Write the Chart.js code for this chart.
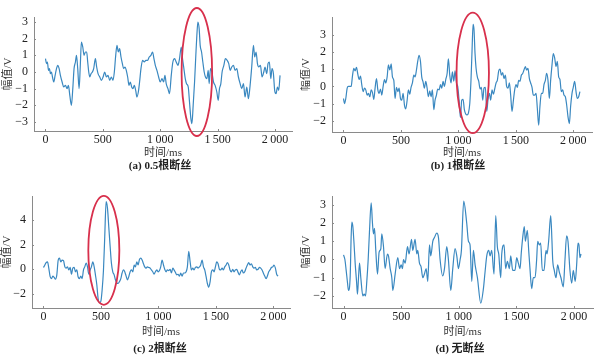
<!DOCTYPE html>
<html><head><meta charset="utf-8">
<script src="https://cdn.jsdelivr.net/npm/chart.js@4.4.1/dist/chart.umd.min.js"></script>
<style>
html,body{margin:0;padding:0;background:#fff;width:600px;height:355px;overflow:hidden;position:relative}
canvas{position:absolute}
.cap{position:absolute;font:bold 11px "Liberation Serif","Noto Sans CJK SC";color:#222;transform:translate(-50%,-50%);white-space:nowrap}
</style></head><body>
<canvas id="ca" width="300" height="177" style="left:0;top:0"></canvas>
<canvas id="cb" width="300" height="177" style="left:300px;top:0"></canvas>
<canvas id="cc" width="300" height="178" style="left:0;top:177px"></canvas>
<canvas id="cd" width="300" height="178" style="left:300px;top:177px"></canvas>
<div class="cap" style="left:160px;top:164px">(a) 0.5根断丝</div>
<div class="cap" style="left:458px;top:164px">(b) 1根断丝</div>
<div class="cap" style="left:160px;top:347px">(c) 2根断丝</div>
<div class="cap" style="left:460px;top:347px">(d) 无断丝</div>
<script>
// x tick values and labels (ms)
const xTickValues = [0, 500, 1000, 1500, 2000];
const xTickLabels = ['0', '500', '1\u2009000', '1\u2009500', '2\u2009000'];
// y tick values per panel (V)
const yTicksA = [-3, -2, -1, 0, 1, 2, 3];
const yTicksB = [-2, -1, 0, 1, 2, 3];
const yTicksC = [-2, 0, 2, 4];
const yTicksD = [-2, -1, 0, 1, 2, 3];
// highlighted regions: [centre ms, centre V, half-width ms, half-height V]
const ellipseA = [1319, 0.0, 133, 3.84];
const ellipseB = [1125, 0.78, 141, 3.49];
const ellipseC = [525, 1.54, 135, 4.42];
// signals: [time ms, amplitude V]
const sigA = [[0,0.8],[9,0.5],[17,0.6],[26,0.1],[35,0.2],[43,-0.1],[52,0.0],[61,-0.3],[72,-0.6],[84,-0.2],[96,0.2],[107,0.4],[119,0.2],[130,-0.2],[145,-0.6],[159,-0.9],[174,-0.8],[188,-1.0],[200,-0.8],[212,-1.4],[226,-2.0],[238,-1.0],[249,0.2],[261,0.6],[270,1.0],[281,0.2],[293,-1.0],[304,0.5],[313,1.8],[325,1.5],[336,1.0],[348,1.2],[359,1.2],[368,0.6],[377,0.0],[386,-0.3],[397,-0.1],[409,0.0],[420,0.2],[435,0.8],[446,0.3],[458,-0.1],[473,-0.3],[487,-0.5],[502,-0.3],[516,0.0],[531,-0.3],[545,-0.2],[560,-0.5],[574,-0.3],[588,-0.5],[600,0.0],[612,1.0],[623,1.6],[635,1.2],[646,1.4],[658,0.9],[670,0.5],[681,0.2],[693,0.3],[704,0.1],[716,-0.3],[728,-0.8],[739,-0.6],[751,-0.9],[762,-1.0],[774,-0.8],[786,-1.1],[797,-1.5],[809,-1.2],[820,-0.6],[832,0.2],[846,0.7],[861,0.6],[875,0.7],[890,0.7],[904,0.9],[919,1.0],[933,1.2],[945,0.8],[957,0.4],[971,0.1],[986,-0.3],[1000,-0.6],[1015,-0.4],[1029,-0.6],[1041,-0.2],[1052,-0.7],[1067,-1.0],[1081,-1.3],[1096,-0.2],[1110,0.6],[1125,0.8],[1139,0.6],[1154,0.4],[1168,0.8],[1183,1.5],[1194,0.8],[1206,0.2],[1218,-0.4],[1229,-0.7],[1244,-0.9],[1255,-1.8],[1267,-2.8],[1276,-3.1],[1287,-2.0],[1299,-0.6],[1310,1.0],[1319,2.2],[1328,3.0],[1339,2.6],[1348,1.6],[1360,1.2],[1371,0.6],[1383,0.0],[1394,-0.3],[1406,-0.4],[1418,0.1],[1426,-0.7],[1438,0.2],[1450,0.0],[1464,-0.6],[1478,-0.8],[1493,-1.2],[1505,-1.7],[1516,-1.0],[1528,-0.7],[1539,0.0],[1554,0.4],[1568,0.8],[1583,0.7],[1597,0.5],[1609,0.1],[1623,0.3],[1638,0.4],[1652,0.1],[1667,0.2],[1681,-0.3],[1696,-0.7],[1710,-1.0],[1725,-0.7],[1739,-1.5],[1754,-0.9],[1768,-1.6],[1783,-0.8],[1797,0.3],[1812,1.6],[1823,0.9],[1835,1.2],[1847,0.5],[1858,0.3],[1873,0.4],[1887,-0.3],[1902,0.0],[1913,0.3],[1928,-0.1],[1939,0.5],[1951,0.6],[1963,-0.4],[1974,0.2],[1986,-0.1],[1997,-1.1],[2009,-1.3],[2021,-0.9],[2032,-1.1],[2044,-0.2]];
const sigB = [[0,-0.7],[9,-1.0],[20,-0.7],[32,-0.1],[43,0.0],[55,0.0],[67,0.0],[78,0.6],[90,1.05],[101,0.9],[113,1.1],[125,0.7],[136,0.4],[148,0.6],[159,0.1],[171,-0.3],[183,-0.1],[194,-0.2],[206,-0.5],[217,-0.4],[229,-0.6],[241,-0.2],[252,-0.35],[264,-0.75],[275,-0.1],[287,0.45],[299,-0.2],[310,-0.4],[322,-0.15],[333,-0.5],[345,0.0],[357,0.4],[368,0.2],[380,0.55],[391,1.25],[403,0.95],[415,1.3],[426,0.55],[438,0.35],[449,-0.7],[461,-0.05],[473,-0.3],[484,-0.1],[496,-0.7],[507,-0.8],[519,-0.4],[531,-1.1],[542,-1.3],[554,-0.8],[565,-0.2],[577,-0.45],[588,-0.05],[600,0.2],[612,0.65],[623,0.55],[635,0.95],[646,1.45],[658,1.8],[670,1.45],[681,0.55],[693,0.25],[704,-0.1],[716,0.3],[728,-0.1],[739,-0.6],[751,-0.25],[762,-0.6],[774,-0.2],[786,-1.35],[797,-0.8],[809,-0.5],[820,-0.15],[832,-0.2],[844,0.1],[855,-0.1],[867,0.3],[878,0.0],[890,0.4],[902,0.75],[913,1.6],[925,0.65],[936,0.2],[948,0.85],[960,0.3],[971,0.9],[983,0.2],[994,0.0],[1006,-0.8],[1018,-1.8],[1029,-0.8],[1041,-0.75],[1052,-1.35],[1064,-1.6],[1076,-1.65],[1087,-1.55],[1099,-1.0],[1110,0.4],[1119,2.1],[1128,3.6],[1136,3.3],[1145,1.9],[1154,1.05],[1165,0.55],[1177,0.3],[1189,-0.15],[1200,-0.05],[1212,-0.8],[1223,-0.1],[1235,-0.05],[1247,-1.45],[1258,-0.75],[1270,-0.4],[1281,-0.8],[1293,-0.2],[1305,-0.45],[1316,-0.15],[1328,0.2],[1339,0.35],[1351,0.9],[1363,1.0],[1374,0.65],[1386,0.8],[1397,0.45],[1409,0.65],[1420,0.0],[1432,-0.1],[1444,0.2],[1455,-0.5],[1467,-1.45],[1479,-0.8],[1490,-0.2],[1502,0.1],[1513,-0.05],[1525,0.35],[1536,0.3],[1548,0.65],[1560,0.75],[1571,0.95],[1583,1.15],[1594,0.95],[1606,1.05],[1618,0.45],[1629,0.2],[1641,-0.05],[1652,-0.5],[1664,-0.5],[1676,-0.4],[1687,-1.25],[1699,-2.25],[1710,-1.15],[1722,-0.4],[1734,-0.4],[1745,0.1],[1757,0.35],[1768,0.75],[1780,0.35],[1792,-0.7],[1803,0.35],[1815,1.25],[1826,1.9],[1838,1.65],[1850,1.15],[1861,1.45],[1873,0.55],[1884,0.4],[1896,-0.3],[1908,-0.2],[1919,-0.5],[1931,-0.6],[1942,-1.05],[1954,-1.75],[1966,-2.15],[1977,-1.15],[1989,-0.4],[2000,-0.05],[2012,0.3],[2024,-0.3],[2035,-0.7],[2047,-0.6],[2058,-0.3]];
const sigC = [[0,0.15],[12,0.35],[23,0.55],[35,0.6],[46,0.1],[58,-0.6],[70,-0.75],[81,-0.55],[93,-0.65],[104,-0.8],[116,-0.45],[128,0.75],[139,0.9],[151,0.6],[162,0.75],[174,0.7],[186,0.2],[197,0.1],[209,0.2],[220,-0.05],[232,0.15],[244,-0.4],[255,0.1],[267,0.15],[278,-0.2],[290,-0.05],[301,-0.6],[313,-0.75],[325,-0.55],[336,-0.75],[348,-0.05],[359,0.2],[371,0.5],[383,0.2],[394,-0.4],[406,-0.05],[417,0.2],[429,0.6],[441,0.2],[452,-0.45],[464,-1.25],[475,-2.35],[487,-2.7],[499,-2.6],[510,-1.7],[522,-0.05],[533,2.65],[545,5.5],[557,4.95],[568,3.45],[580,1.85],[591,0.5],[603,-0.2],[615,-0.45],[626,-0.85],[638,-1.1],[649,-1.15],[661,-1.0],[673,-0.75],[684,-0.3],[696,-0.05],[707,-0.2],[719,-0.55],[731,-0.85],[742,-0.6],[754,-0.2],[765,-0.05],[777,-0.2],[789,0.35],[800,0.2],[812,0.6],[823,0.35],[835,0.8],[847,0.9],[858,0.75],[870,0.45],[881,0.2],[893,0.1],[904,0.2],[916,0.15],[928,0.1],[939,-0.05],[951,-0.2],[962,-0.4],[974,-0.2],[986,-0.05],[997,-0.2],[1009,-0.1],[1020,0.2],[1032,0.75],[1044,0.35],[1055,0.0],[1067,-0.2],[1078,-0.05],[1090,-0.1],[1102,0.0],[1113,-0.3],[1125,0.1],[1136,-0.05],[1148,-0.25],[1160,-0.45],[1171,-0.4],[1183,-0.55],[1194,-0.3],[1206,-0.55],[1218,-0.3],[1229,-0.3],[1241,-0.2],[1252,0.2],[1264,1.45],[1276,0.6],[1287,-0.05],[1299,0.1],[1310,-0.05],[1322,0.15],[1334,0.2],[1345,0.1],[1357,0.2],[1368,0.35],[1380,0.75],[1392,0.2],[1403,-0.05],[1415,-0.6],[1426,-1.15],[1438,-1.45],[1450,-1.0],[1461,-0.2],[1473,-0.05],[1484,-0.2],[1496,0.2],[1507,0.6],[1519,0.45],[1531,0.0],[1542,-0.05],[1554,0.1],[1565,-0.05],[1577,0.2],[1589,0.35],[1600,0.55],[1612,0.35],[1623,-0.05],[1635,-0.2],[1647,0.0],[1658,-0.2],[1670,-0.05],[1681,0.0],[1693,-0.25],[1705,-0.45],[1716,-0.2],[1728,-0.05],[1739,-0.3],[1751,-0.2],[1763,0.1],[1774,0.35],[1786,0.55],[1797,0.35],[1809,0.45],[1821,0.2],[1832,0.1],[1844,0.15],[1855,-0.05],[1867,0.0],[1879,0.15],[1890,0.1],[1902,-0.05],[1913,-0.3],[1925,-0.55],[1937,-0.75],[1948,-0.55],[1960,-0.2],[1971,-0.05],[1983,0.15],[1995,0.2],[2006,0.35],[2018,0.1],[2029,-0.4],[2041,-0.55]];
const sigD = [[0,0.25],[12,0.0],[23,-0.6],[35,-1.3],[43,-1.7],[58,-0.9],[66,1.2],[72,2.05],[81,1.8],[90,1.0],[101,-0.2],[113,-1.2],[121,-1.9],[130,-1.0],[139,-0.2],[150,-1.0],[168,-2.0],[179,-1.9],[191,-2.0],[202,-1.2],[214,0.0],[225,1.5],[240,3.1],[251,2.0],[260,1.4],[269,1.7],[280,0.5],[295,-0.8],[309,0.4],[324,0.6],[332,1.4],[347,0.7],[361,-0.5],[381,0.3],[390,0.2],[405,-0.5],[419,-1.0],[428,-1.7],[448,-0.8],[471,0.1],[486,-0.5],[500,-0.3],[512,-0.5],[520,0.0],[535,-0.2],[555,0.7],[569,0.3],[590,1.1],[601,0.5],[621,1.1],[636,0.3],[644,0.5],[659,-0.2],[673,-0.4],[688,-1.0],[702,-0.8],[717,-0.5],[731,-1.2],[746,0.8],[757,0.2],[775,1.0],[789,1.2],[809,1.45],[824,1.2],[838,0.0],[861,-0.9],[876,-0.5],[896,0.7],[910,0.0],[931,-1.7],[948,-0.5],[968,0.6],[983,0.2],[997,-0.5],[1012,0.0],[1023,0.5],[1043,3.2],[1069,2.0],[1084,1.0],[1098,0.8],[1113,-1.2],[1127,0.5],[1142,-0.3],[1162,-1.0],[1191,-2.4],[1214,-1.6],[1228,-0.7],[1243,0.2],[1260,0.5],[1272,0.2],[1286,0.5],[1306,-0.8],[1321,2.4],[1335,0.7],[1347,0.3],[1364,-1.0],[1373,0.3],[1393,0.8],[1407,-0.5],[1422,-0.1],[1439,-0.5],[1451,0.2],[1468,-0.6],[1488,-0.6],[1503,0.1],[1517,-0.2],[1532,-0.5],[1543,0.4],[1555,1.2],[1569,1.8],[1578,1.0],[1595,1.6],[1607,0.5],[1618,-0.5],[1633,-1.6],[1647,-1.0],[1662,-1.0],[1676,0.0],[1685,1.0],[1699,0.8],[1711,0.9],[1725,-0.6],[1740,-0.6],[1757,0.5],[1766,0.3],[1780,1.0],[1798,2.4],[1809,1.0],[1815,0.0],[1829,-0.6],[1844,-1.0],[1858,-0.3],[1873,-0.7],[1887,-1.0],[1907,-1.5],[1922,0.0],[1936,1.3],[1948,1.0],[1965,-0.6],[1980,-1.3],[1994,-0.6],[2011,-1.2],[2023,-0.3],[2035,0.9],[2043,0.8],[2052,0.1],[2061,0.3]];

const LINE = '#3a88c0', AXIS = '#8a8a8a', TXT = '#222';
const tickFont = {family: '"Liberation Serif", "DejaVu Serif", serif', size: 12};
const titleFont = {family: '"Liberation Serif", "Noto Sans CJK SC", serif', size: 11};

const ellipsePlugin = {
  id: 'ell',
  afterDatasetsDraw(chart, args, opts) {
    const e = opts.e; if (!e) return;
    const xs = chart.scales.x, ys = chart.scales.y, ctx = chart.ctx;
    const cx = xs.getPixelForValue(e[0]), cy = ys.getPixelForValue(e[1]);
    const rx = Math.abs(xs.getPixelForValue(e[0] + e[2]) - cx);
    const ry = Math.abs(ys.getPixelForValue(e[1] + e[3]) - cy);
    ctx.save(); ctx.strokeStyle = '#d8304c'; ctx.lineWidth = 1.8;
    ctx.beginPath(); ctx.ellipse(cx, cy, rx, ry, 0, 0, 2 * Math.PI); ctx.stroke(); ctx.restore();
  }
};
const tickPlugin = {
  id: 'inTicks',
  afterDraw(chart) {
    const ctx = chart.ctx, x = chart.scales.x, y = chart.scales.y;
    ctx.save(); ctx.strokeStyle = AXIS; ctx.lineWidth = 1; ctx.beginPath();
    x.ticks.forEach(t => { const p = Math.round(x.getPixelForValue(t.value)) + 0.5; ctx.moveTo(p, x.top); ctx.lineTo(p, x.top - 2); });
    y.ticks.forEach(t => { const p = Math.round(y.getPixelForValue(t.value)) + 0.5; ctx.moveTo(y.right, p); ctx.lineTo(y.right + 2, p); });
    ctx.stroke(); ctx.restore();
  }
};

function make(id, sig, yMin, yMax, yTicks, xMax, ell, pad, yW, xH, yTitlePad) {
  new Chart(document.getElementById(id), {
    type: 'line',
    data: { datasets: [{ data: sig.map(p => ({x: p[0], y: p[1]})), borderColor: LINE, borderWidth: 1.2,
      pointRadius: 0, fill: false, cubicInterpolationMode: 'monotone' }] },
    options: {
      responsive: false, animation: false, events: [],
      layout: { padding: pad },
      plugins: { legend: {display: false}, tooltip: {enabled: false}, ell: {e: ell} },
      scales: {
        x: { type: 'linear', min: -100, max: xMax,
          afterBuildTicks: s => { s.ticks = xTickValues.map(v => ({value: v})); },
          afterFit: s => { s.height = xH; },
          grid: {display: false, drawTicks: false},
          border: {display: true, color: AXIS, width: 1},
          ticks: { padding: 2, font: tickFont, color: TXT, autoSkip: false, maxRotation: 0,
            callback: v => xTickLabels[xTickValues.indexOf(v)] },
          title: { display: true, text: '时间/ms', padding: 0, font: titleFont, color: '#333' } },
        y: { min: yMin, max: yMax,
          afterBuildTicks: s => { s.ticks = yTicks.map(v => ({value: v})); },
          afterFit: s => { s.width = yW; },
          grid: {display: false, drawTicks: false},
          border: {display: true, color: AXIS, width: 1},
          ticks: { padding: 6, font: tickFont, color: TXT, autoSkip: false,
            callback: v => (v < 0 ? '\u2212' : '') + Math.abs(v) },
          title: { display: true, text: '幅值/V', padding: {top: yTitlePad, bottom: 0}, font: titleFont, color: '#333' } }
      }
    },
    plugins: [ellipsePlugin, tickPlugin]
  });
}
make('ca', sigA, -3.54, 3.3, yTicksA, 2148, ellipseA, {left: 0, top: 17, right: 8, bottom: 17}, 34, 29, 1.5);
make('cb', sigB, -2.64, 4.02, yTicksB, 2163, ellipseB, {left: 0, top: 17, right: 8, bottom: 17}, 32, 28, 0);
make('cc', sigC, -3.14, 5.95, yTicksC, 2145, ellipseC, {left: 0, top: 19, right: 10, bottom: 16}, 32, 31, 1);
make('cd', sigD, -2.66, 3.48, yTicksD, 2165, null, {left: 0, top: 19, right: 7, bottom: 16}, 32, 31, 0);
</script>
</body></html>
